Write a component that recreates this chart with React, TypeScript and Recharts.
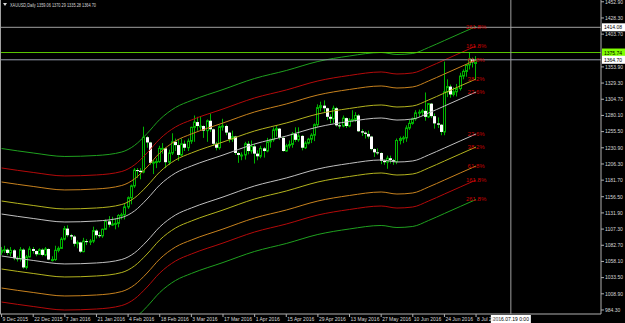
import React from 'react'
import { ComposedChart, Bar, Line, XAxis, YAxis, ReferenceLine } from 'recharts'

const FONT = '"Liberation Sans", Arial, sans-serif'
const GREEN = '#00b400'
const SLOTS = 190

// XAUUSD daily bars, left to right
const opens = [
  1072, 1075, 1076, 1071, 1075, 1063, 1062, 1076, 1049, 1065, 1077, 1074, 1069, 1076, 1068, 1077, 1061, 1061, 1075, 1078,
  1092, 1108, 1098, 1096, 1085, 1087, 1073, 1089, 1088, 1089, 1105, 1098, 1097, 1107, 1119, 1114, 1115, 1116, 1128, 1129,
  1141, 1155, 1173, 1197, 1196, 1194, 1247, 1239, 1208, 1209, 1210, 1230, 1230, 1209, 1223, 1240, 1235, 1220, 1237, 1231,
  1241, 1262, 1270, 1264, 1264, 1257, 1272, 1259, 1237, 1231, 1263, 1264, 1254, 1244, 1248, 1223, 1220, 1220, 1237, 1226,
  1233, 1222, 1218, 1230, 1226, 1240, 1243, 1258, 1260, 1246, 1226, 1234, 1236, 1252, 1243, 1249, 1231, 1238, 1244, 1250,
  1266, 1292, 1295, 1291, 1278, 1275, 1291, 1265, 1264, 1276, 1264, 1273, 1274, 1280, 1256, 1254, 1252, 1248, 1229, 1224,
  1223, 1211, 1209, 1215, 1212, 1210, 1242, 1245, 1246, 1261, 1268, 1275, 1284, 1285, 1287, 1278, 1298, 1279, 1268, 1266,
  1255, 1316, 1324, 1312, 1316, 1321, 1340, 1347, 1357, 1366, 1359.06,
]
const highs = [
  1080, 1082, 1078, 1080, 1077, 1066, 1080, 1078, 1068, 1081, 1080, 1075, 1078, 1078, 1080, 1078, 1066, 1082, 1081, 1095,
  1112, 1113, 1100, 1098, 1090, 1088, 1094, 1092, 1092, 1111, 1107, 1103, 1108, 1122, 1127, 1126, 1124, 1130, 1132, 1146,
  1157, 1175, 1200, 1200, 1200, 1263, 1249, 1240, 1212, 1215, 1234, 1238, 1231, 1228, 1253, 1245, 1243, 1245, 1242, 1245,
  1263, 1280, 1278, 1278, 1265, 1274, 1283, 1260, 1240, 1265, 1275, 1266, 1255, 1257, 1249, 1225, 1224, 1240, 1241, 1242,
  1237, 1227, 1234, 1232, 1246, 1245, 1262, 1264, 1261, 1248, 1237, 1242, 1255, 1262, 1262, 1250, 1241, 1246, 1253, 1268,
  1297, 1301, 1303, 1292, 1282, 1295, 1293, 1270, 1280, 1277, 1276, 1288, 1285, 1282, 1259, 1256, 1257, 1249, 1230, 1230,
  1224, 1213, 1219, 1219, 1214, 1245, 1248, 1249, 1265, 1273, 1277, 1288, 1289, 1290, 1315, 1299, 1299, 1283, 1277, 1267,
  1362, 1335, 1327, 1323, 1328, 1345, 1350, 1358, 1375, 1368, 1370.29,
]
const lows = [
  1068, 1071, 1068, 1066, 1060, 1058, 1058, 1047, 1046, 1064, 1070, 1066, 1068, 1066, 1066, 1060, 1058, 1059, 1072, 1077,
  1090, 1095, 1091, 1081, 1078, 1071, 1072, 1083, 1083, 1086, 1093, 1094, 1094, 1106, 1110, 1112, 1107, 1110, 1122, 1122,
  1138, 1145, 1170, 1185, 1183, 1192, 1231, 1205, 1191, 1200, 1208, 1222, 1200, 1205, 1220, 1226, 1211, 1218, 1226, 1226,
  1237, 1240, 1257, 1257, 1246, 1240, 1255, 1234, 1227, 1228, 1257, 1250, 1239, 1240, 1220, 1208, 1212, 1213, 1221, 1222,
  1207, 1212, 1215, 1216, 1224, 1231, 1240, 1248, 1243, 1225, 1225, 1230, 1231, 1240, 1240, 1227, 1229, 1236, 1238, 1241,
  1262, 1286, 1285, 1273, 1268, 1268, 1263, 1260, 1262, 1261, 1262, 1270, 1270, 1255, 1249, 1245, 1245, 1227, 1217, 1220,
  1206, 1205, 1199, 1207, 1205, 1206, 1236, 1238, 1240, 1258, 1266, 1272, 1278, 1279, 1272, 1276, 1276, 1260, 1261, 1250,
  1250, 1308, 1307, 1309, 1309, 1318, 1335, 1339, 1350, 1353, 1335.28,
]
const closes = [
  1075, 1076, 1071, 1075, 1063, 1062, 1076, 1049, 1065, 1077, 1074, 1069, 1076, 1068, 1077, 1061, 1061, 1075, 1078, 1092,
  1108, 1098, 1096, 1085, 1087, 1073, 1089, 1088, 1089, 1105, 1098, 1097, 1107, 1119, 1114, 1115, 1116, 1128, 1129, 1141,
  1155, 1173, 1197, 1196, 1194, 1247, 1239, 1208, 1209, 1210, 1230, 1230, 1209, 1223, 1240, 1235, 1220, 1237, 1231, 1241,
  1262, 1270, 1264, 1264, 1257, 1272, 1259, 1237, 1231, 1263, 1264, 1254, 1244, 1248, 1223, 1220, 1220, 1237, 1226, 1233,
  1222, 1218, 1230, 1226, 1240, 1243, 1258, 1260, 1246, 1226, 1234, 1236, 1252, 1243, 1249, 1231, 1238, 1244, 1250, 1266,
  1292, 1295, 1291, 1278, 1275, 1291, 1265, 1264, 1276, 1264, 1273, 1274, 1280, 1256, 1254, 1252, 1248, 1229, 1224, 1223,
  1211, 1209, 1215, 1212, 1210, 1242, 1245, 1246, 1261, 1268, 1275, 1284, 1285, 1287, 1278, 1298, 1279, 1268, 1266, 1255,
  1316, 1324, 1312, 1316, 1321, 1340, 1347, 1357, 1366, 1361, 1364.7,
]

// band midline, read at these bar positions
const bandIdx = [0, 10, 20, 30, 38, 42, 46, 50, 55, 60, 70, 80, 90, 100, 110, 120, 125, 130, 135, 140, 145, 150]
const bandMid = [
  1098.3, 1091.5, 1086.2, 1087.7, 1093.0, 1102.9, 1121.1, 1142.4, 1160.7, 1171.3, 1188.0,
  1204.8, 1216.9, 1230.6, 1239.0, 1244.3, 1241.2, 1242.8, 1251.9, 1262.5, 1273.2, 1283.8,
]
const levelOffsets = [31.9, 51.7, 80.6, 101.9, 131.5]
const levelColors = ['#c0c0c0', '#b4b41e', '#c8821e', '#b40a0a', '#1fa01f']
const levelLabels = ['23.6%', '38.2%', '61.8%', '161.8%', '261.8%']

const priceTicks = [
  984.3, 1008.9, 1033.5, 1058.1, 1082.7, 1107.3, 1131.9, 1156.5, 1181.7, 1206.3,
  1230.9, 1255.5, 1280.1, 1304.7, 1329.3, 1353.9, 1403.7, 1428.3, 1452.9,
]
const dateTicks = [0, 10, 20, 30, 40, 50, 60, 70, 80, 90, 100, 110, 120, 130, 140, 150]
const dateLabels = [
  '9 Dec 2015', '22 Dec 2015', '7 Jan 2016', '21 Jan 2016', '4 Feb 2016', '18 Feb 2016', '3 Mar 2016', '17 Mar 2016',
  '1 Apr 2016', '15 Apr 2016', '29 Apr 2016', '13 May 2016', '27 May 2016', '10 Jun 2016', '24 Jun 2016', '8 Jul 2016',
]

const bidPrice = 1364.7
const markPrice = 1375.74
const crossPrice = 1414.08
const crossBar = 161
const crossDate = '2016.07.19 0:00'

const LAST = closes.length - 1

const data = Array.from({ length: SLOTS }, (_, i) => {
  const row: any = { i }
  if (i <= LAST) {
    row.o = opens[i]
    row.h = highs[i]
    row.l = lows[i]
    row.c = closes[i]
    row.range = [lows[i], highs[i]]
  }
  const k = bandIdx.indexOf(i)
  if (k >= 0) {
    levelOffsets.forEach((off, j) => {
      row['u' + j] = bandMid[k] + off
      row['d' + j] = bandMid[k] - off
    })
  }
  return row
})

function Candle(props: any) {
  const { x, y, width, height, payload } = props
  if (!payload || payload.o == null) return null
  const { o, h, l, c } = payload
  const top = Math.min(y, y + height)
  const span = Math.abs(height)
  const py = (v: number) => top + ((h - v) / (h - l || 1)) * span
  const cx = Math.floor(x + width / 2)
  const yo = py(o)
  const yc = py(c)
  const bTop = Math.min(yo, yc)
  const bH = Math.max(1, Math.abs(yc - yo))
  return (
    <g>
      <line x1={cx + 0.5} x2={cx + 0.5} y1={top} y2={top + span} stroke={GREEN} strokeWidth={1} />
      {c >= o ? (
        <rect x={cx - 0.5} y={bTop} width={2} height={bH} fill="#000" stroke={GREEN} strokeWidth={1} />
      ) : (
        <rect x={cx - 1} y={bTop} width={3} height={bH} fill="#ffffff" />
      )}
    </g>
  )
}

function PriceTick(props: any) {
  const { x, y, payload } = props
  return (
    <g>
      <line x1={x} x2={x + 3} y1={y} y2={y} stroke="#b0b0b0" />
      <text x={x + 4} y={y + 1.8} fill="#d8d8d8" fontSize={5} fontFamily={FONT}>
        {payload.value.toFixed(2)}
      </text>
    </g>
  )
}

function DateTick(props: any) {
  const { x, y, payload } = props
  const k = dateTicks.indexOf(payload.value)
  return (
    <g>
      <line x1={x} x2={x} y1={y} y2={y + 3} stroke="#b0b0b0" />
      <text x={x + 1} y={y + 7} fill="#d8d8d8" fontSize={5} fontFamily={FONT}>
        {dateLabels[k]}
      </text>
    </g>
  )
}

function priceBox(value: number, bg: string) {
  return (p: any) => {
    const vb = p.viewBox || {}
    const bx = vb.x + vb.width + 1
    return (
      <g>
        <rect x={bx} y={vb.y - 4} width={23} height={8} fill={bg} />
        <text x={bx + 2} y={vb.y + 2} fill="#000" fontSize={5} fontFamily={FONT}>
          {value.toFixed(2)}
        </text>
      </g>
    )
  }
}

function dateBox(p: any) {
  const vb = p.viewBox || {}
  const by = vb.y + vb.height + 1
  return (
    <g>
      <rect x={vb.x - 20} y={by} width={40} height={8} fill="#ffffff" />
      <text x={vb.x} y={by + 6} fill="#000" fontSize={5} fontFamily={FONT} textAnchor="middle">
        {crossDate}
      </text>
    </g>
  )
}

function bandLabel(text: string) {
  return (p: any) => {
    if (p.index !== LAST || p.y == null) return null
    return (
      <text x={p.x} y={p.y + 2} fill="#c80000" fontSize={6} fontFamily={FONT} textAnchor="middle">
        {text}
      </text>
    )
  }
}

export default function App() {
  return (
    <div style={{ position: 'absolute', left: 0, top: 0, width: 625, height: 323, background: '#000' }}>
      <ComposedChart
        width={625}
        height={323}
        data={data}
        margin={{ top: 0, right: 0, bottom: 0, left: 0 }}
        barCategoryGap={0}
        barGap={0}
      >
        <XAxis
          dataKey="i"
          ticks={dateTicks}
          interval={0}
          height={9}
          tickSize={0}
          tickMargin={0}
          tick={<DateTick />}
          axisLine={{ stroke: '#b0b0b0' }}
        />
        <YAxis
          orientation="right"
          width={24}
          domain={[978.2, 1455.6]}
          allowDataOverflow
          ticks={priceTicks}
          interval={0}
          tickSize={0}
          tickMargin={0}
          tick={<PriceTick />}
          axisLine={{ stroke: '#b0b0b0' }}
        />
        {levelOffsets.map((_, j) => (
          <Line
            key={'u' + j}
            dataKey={'u' + j}
            type="monotone"
            stroke={levelColors[j]}
            strokeWidth={1}
            dot={false}
            connectNulls
            isAnimationActive={false}
            label={bandLabel(levelLabels[j])}
          />
        ))}
        {levelOffsets.map((_, j) => (
          <Line
            key={'d' + j}
            dataKey={'d' + j}
            type="monotone"
            stroke={levelColors[j]}
            strokeWidth={1}
            dot={false}
            connectNulls
            isAnimationActive={false}
            label={bandLabel(levelLabels[j])}
          />
        ))}
        <Bar dataKey="range" shape={<Candle />} isAnimationActive={false} />
        <ReferenceLine y={crossPrice} stroke="#a0a0a0" label={priceBox(crossPrice, '#ffffff')} />
        <ReferenceLine y={markPrice} stroke="#5ac800" label={priceBox(markPrice, '#80ff00')} />
        <ReferenceLine y={bidPrice} stroke="#9aa0b0" label={priceBox(bidPrice, '#ffffff')} />
        <ReferenceLine x={crossBar} stroke="#a0a0a0" label={dateBox} />
      </ComposedChart>
      <div style={{ position: 'absolute', left: 0, top: 0, width: 1, height: 314, background: '#a0a0a0' }} />
      <svg style={{ position: 'absolute', left: 0, top: 0 }} width={120} height={10}>
        <path d="M3 3 L7 3 L5 6 Z" fill="#d8d8d8" />
        <text x={10} y={7} fill="#d8d8d8" fontSize={5} fontFamily={FONT} textLength={86} lengthAdjust="spacingAndGlyphs">
          XAUUSD,Daily  1359.06 1370.29 1335.28 1364.70
        </text>
      </svg>
    </div>
  )
}
